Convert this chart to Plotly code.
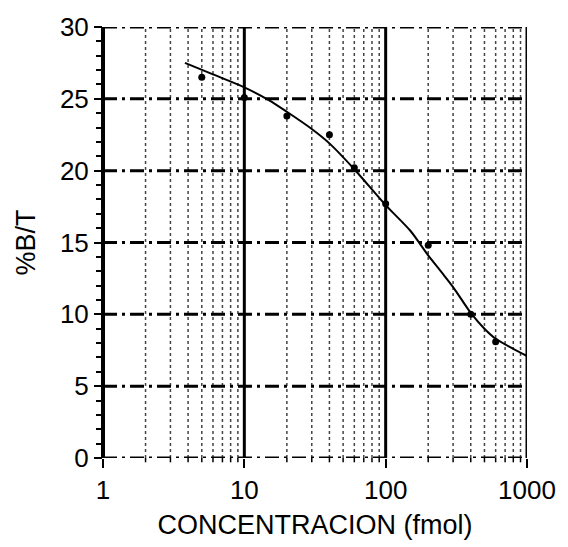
import plotly.graph_objects as go

# Data points (concentration fmol, %B/T)
conc_pts = [5, 10, 20, 40, 60, 100, 200, 400, 600]
bt_pts = [26.5, 25.1, 23.8, 22.5, 20.2, 17.7, 14.8, 10.0, 8.1]

# Fitted curve
conc_curve = [3.8, 6, 10, 15, 20, 30, 40, 60, 100, 150, 200, 250, 300, 400, 500, 600, 800, 1000]
bt_curve = [27.5, 26.7, 25.8, 24.9, 24.1, 22.9, 21.9, 20.1, 17.6, 15.8, 14.1, 12.9, 11.9, 10.1, 9.0, 8.3, 7.6, 7.1]

x_major = [1, 10, 100, 1000]
x_minor = [m * d for d in (1, 10, 100) for m in range(2, 10)]
y_ticks = [0, 5, 10, 15, 20, 25, 30]

FONT = "Liberation Sans, Arial, sans-serif"

fig = go.Figure()
fig.add_trace(go.Scatter(x=conc_curve, y=bt_curve, mode="lines",
                         line=dict(color="black", width=2, shape="spline", smoothing=0.8),
                         showlegend=False))
fig.add_trace(go.Scatter(x=conc_pts, y=bt_pts, mode="markers",
                         marker=dict(color="black", size=7),
                         showlegend=False))

# vertical minor grid lines (dotted)
for v in x_minor:
    fig.add_shape(type="line", xref="x", yref="paper", x0=v, x1=v, y0=0, y1=1,
                  line=dict(color="#444444", width=1.5, dash="dot"), layer="below")
    fig.add_shape(type="line", xref="x", yref="paper", x0=v, x1=v, y0=0, y1=-0.01,
                  line=dict(color="black", width=1.5), layer="below")
# major vertical lines
for v in [10, 100, 1000]:
    fig.add_shape(type="line", xref="x", yref="paper", x0=v, x1=v, y0=0, y1=1,
                  line=dict(color="black", width=3), layer="below")
# horizontal dash-dot lines
for h in y_ticks:
    fig.add_shape(type="line", xref="paper", yref="y", x0=0, x1=1, y0=h, y1=h,
                  line=dict(color="black", width=3, dash="14px,5px,3px,5px"), layer="below")
# left axis line
fig.add_shape(type="line", xref="paper", yref="paper", x0=0, x1=0, y0=0, y1=1,
              line=dict(color="black", width=4))

fig.update_layout(
    width=568, height=547,
    margin=dict(l=103, r=33, t=23, b=89),
    paper_bgcolor="white", plot_bgcolor="white",
    font=dict(family=FONT, size=26, color="black"),
    xaxis=dict(type="log", range=[0, 3], tickvals=x_major, ticktext=["1", "10", "100", "1000"],
               ticks="outside", ticklen=9, tickwidth=2, tickcolor="black",
               showgrid=False, zeroline=False, showline=False,
               title=dict(text="CONCENTRACION (fmol)", standoff=10, font=dict(size=27)),
               tickfont=dict(size=26)),
    yaxis=dict(range=[0, 30], tickvals=y_ticks, ticks="outside", ticklen=8, tickwidth=2,
               tickcolor="black", showgrid=False, zeroline=False, showline=False,
               minor=dict(dtick=1, ticks="outside", ticklen=6, tickwidth=2, tickcolor="black"),
               title=dict(text="%B/T", standoff=16, font=dict(size=27)),
               tickfont=dict(size=26)),
)

fig.write_html("out.html")
